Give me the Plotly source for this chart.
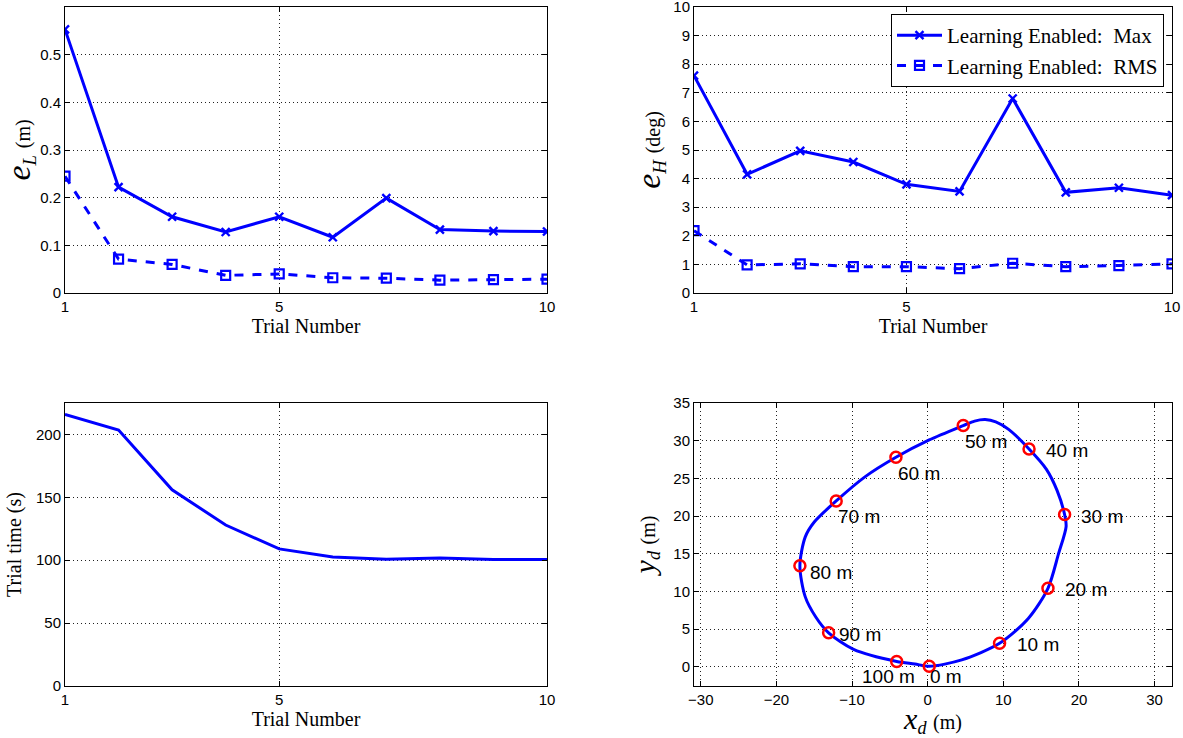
import plotly.graph_objects as go

# ---------------- data ----------------
trials = [1, 2, 3, 4, 5, 6, 7, 8, 9, 10]
eL_max = [0.553, 0.222, 0.160, 0.128, 0.160, 0.117, 0.199, 0.133, 0.130, 0.129]
eL_rms = [0.245, 0.071, 0.060, 0.037, 0.040, 0.032, 0.031, 0.027, 0.028, 0.029]
eH_max = [7.60, 4.15, 4.97, 4.58, 3.80, 3.55, 6.80, 3.52, 3.68, 3.42]
eH_rms = [2.18, 0.98, 1.02, 0.92, 0.92, 0.85, 1.04, 0.92, 0.96, 1.02]
trial_time = [216, 203.5, 156, 128, 109, 102.5, 100.8, 101.8, 100.6, 100.5]

path_x = [0.2, 4.5, 9.5, 13.3, 15.9, 17.3, 18.3, 18.1, 17.1, 15.7, 13.4, 10.7, 9.0, 7.6, 6.2,
          4.7, 0.2, -4.2, -8.3, -12.1, -15.0, -16.2, -16.9, -16.2, -14.8, -13.1, -9.8, -4.1,
          -1.7, 0.2]
path_y = [0.05, 0.9, 3.1, 6.4, 10.4, 15.0, 18.6, 20.2, 23.4, 26.2, 28.9, 31.5, 32.5, 32.8, 32.6,
          32.0, 30.1, 27.8, 25.2, 22.0, 19.2, 17.2, 13.4, 9.3, 6.6, 4.5, 2.3, 0.7, 0.36, 0.05]

mark_x = [0.2, 9.5, 15.9, 18.1, 13.4, 4.7, -4.2, -12.1, -16.9, -13.1, -4.1]
mark_y = [0.05, 3.1, 10.4, 20.2, 28.9, 32.0, 27.8, 22.0, 13.4, 4.5, 0.7]
mark_labels = ["0 m", "10 m", "20 m", "30 m", "40 m", "50 m", "60 m", "70 m", "80 m", "90 m", "100 m"]
label_x = [0.1, 11.6, 17.9, 20.0, 15.4, 4.7, -4.15, -12.1, -15.8, -12.0, -8.9]
label_y = [-1.33, 2.9, 10.2, 20.0, 28.7, 29.9, 25.7, 19.9, 12.5, 4.3, -1.33]

# ---------------- style ----------------
BLUE = "#0000ff"
SERIF = "Liberation Serif, DejaVu Serif, serif"
SANS = "Liberation Sans, Arial, sans-serif"
W, H = 1183, 738


def px_x(a, b):
    return [a / W, b / W]


def px_y(top, bottom):
    return [1 - bottom / H, 1 - top / H]


fig = go.Figure()

max_marker = dict(symbol="x-thin-open", size=8, color=BLUE, line=dict(color=BLUE, width=2.4))
rms_marker = dict(symbol="square-open", size=9, color=BLUE, line=dict(color=BLUE, width=2.2))

# Top-left: e_L
fig.add_trace(go.Scatter(x=trials, y=eL_max, mode="lines+markers", xaxis="x", yaxis="y",
                         line=dict(color=BLUE, width=3), marker=max_marker, showlegend=False))
fig.add_trace(go.Scatter(x=trials, y=eL_rms, mode="lines+markers", xaxis="x", yaxis="y",
                         line=dict(color=BLUE, width=3, dash="dash"), marker=rms_marker,
                         showlegend=False))

# Top-right: e_H
fig.add_trace(go.Scatter(x=trials, y=eH_max, mode="lines+markers", xaxis="x2", yaxis="y2",
                         name="Learning Enabled:  Max",
                         line=dict(color=BLUE, width=3), marker=max_marker))
fig.add_trace(go.Scatter(x=trials, y=eH_rms, mode="lines+markers", xaxis="x2", yaxis="y2",
                         name="Learning Enabled:  RMS",
                         line=dict(color=BLUE, width=3, dash="dash"), marker=rms_marker))

# Bottom-left: trial time
fig.add_trace(go.Scatter(x=trials, y=trial_time, mode="lines", xaxis="x3", yaxis="y3",
                         line=dict(color=BLUE, width=3), showlegend=False))

# Bottom-right: path
fig.add_trace(go.Scatter(x=path_x, y=path_y, mode="lines", xaxis="x4", yaxis="y4",
                         line=dict(color=BLUE, width=3, shape="spline", smoothing=0.8),
                         showlegend=False))
fig.add_trace(go.Scatter(x=mark_x, y=mark_y, mode="markers", xaxis="x4", yaxis="y4",
                         marker=dict(symbol="circle-open", size=11, color="red",
                                     line=dict(color="red", width=2.5)),
                         showlegend=False))

for lx, ly, txt in zip(label_x, label_y, mark_labels):
    fig.add_annotation(x=lx, y=ly, xref="x4", yref="y4", text=txt, showarrow=False,
                       xanchor="left", yanchor="middle",
                       font=dict(family=SANS, size=19, color="black"))

grid = dict(showgrid=True, gridcolor="#222222", griddash="1px,3px", gridwidth=0.8,
            showline=True, linecolor="black", linewidth=1, mirror="ticks",
            ticks="inside", ticklen=5, tickcolor="black", zeroline=False, automargin=False,
            ticklabeloverflow="allow",
            tickfont=dict(family=SANS, size=15, color="black"))

xtrial = dict(range=[1, 10], tickvals=[1, 5, 10],
              title=dict(text="Trial Number", font=dict(family=SERIF, size=20, color="black"),
                         standoff=2), **grid)


def mtitle(sym, sub, unit, big=34):
    return (f"<span style='font-size:{big}px'><i>{sym}</i></span>"
            f"<sub><i>{sub}</i></sub>&nbsp;<span style='font-size:20px'>({unit})</span>")


fig.update_layout(
    width=W, height=H, paper_bgcolor="white", plot_bgcolor="white",
    margin=dict(l=0, r=0, t=0, b=0),
    xaxis=dict(domain=px_x(65, 547), anchor="y", **xtrial),
    yaxis=dict(domain=px_y(7, 293), anchor="x", range=[0, 0.6],
               tickvals=[0, 0.1, 0.2, 0.3, 0.4, 0.5],
               ticktext=["0", "0.1", "0.2", "0.3", "0.4", "0.5"],
               title=dict(text=mtitle("e", "L", "m"),
                          font=dict(family=SERIF, size=27, color="black"), standoff=6),
               **grid),
    xaxis2=dict(domain=px_x(694, 1172), anchor="y2", **xtrial),
    yaxis2=dict(domain=px_y(7, 293), anchor="x2", range=[0, 10], dtick=1,
                title=dict(text=mtitle("e", "H", "deg"),
                           font=dict(family=SERIF, size=27, color="black"), standoff=4),
                **grid),
    xaxis3=dict(domain=px_x(65, 547), anchor="y3", **xtrial),
    yaxis3=dict(domain=px_y(403, 686), anchor="x3", range=[0, 225],
                tickvals=[0, 50, 100, 150, 200],
                title=dict(text="Trial time (s)", font=dict(family=SERIF, size=20, color="black"),
                           standoff=8),
                **grid),
    xaxis4=dict(domain=px_x(694, 1172), anchor="y4", range=[-30.9, 32.3],
                tickvals=[-30, -20, -10, 0, 10, 20, 30],
                title=dict(text=mtitle("x", "d", "m", big=30),
                           font=dict(family=SERIF, size=26, color="black"), standoff=0),
                **grid),
    yaxis4=dict(domain=px_y(403, 686), anchor="x4", range=[-2.56, 35],
                tickvals=[0, 5, 10, 15, 20, 25, 30, 35],
                title=dict(text=mtitle("y", "d", "m", big=30),
                           font=dict(family=SERIF, size=26, color="black"), standoff=10),
                **grid),
    legend=dict(x=1164 / W, xanchor="right", y=1 - 14 / H, yanchor="top",
                bgcolor="white", bordercolor="black", borderwidth=1,
                font=dict(family=SERIF, size=21, color="black"),
                itemwidth=45, tracegroupgap=0),
)

# the page itself: no body margin so the figure fills the window exactly
fig.write_html("out.html", config={"displayModeBar": False},
               post_script="document.body.style.margin='0';document.body.style.overflow='hidden';")
